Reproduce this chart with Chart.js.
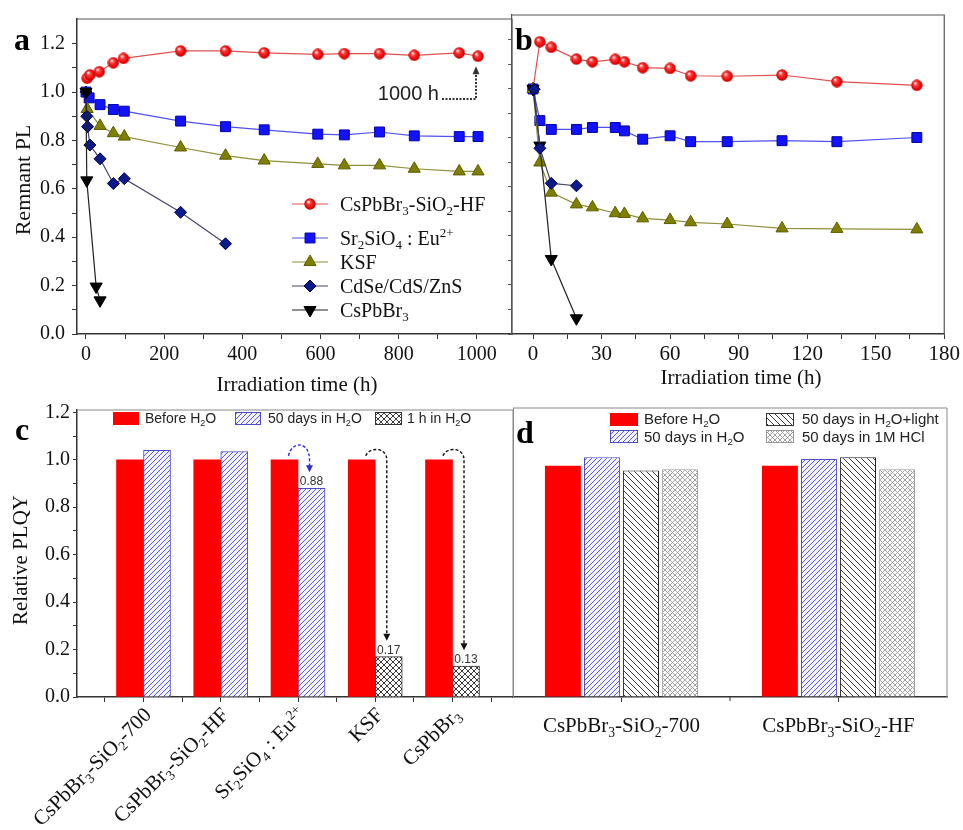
<!DOCTYPE html>
<html><head><meta charset="utf-8">
<script src="https://cdn.jsdelivr.net/npm/chart.js@4/dist/chart.umd.min.js"></script>
<style>
html,body{margin:0;padding:0;background:#fff;width:963px;height:830px;overflow:hidden}
canvas{position:absolute}
</style></head><body>
<canvas id="ca" width="520" height="400" style="left:0;top:0"></canvas>
<canvas id="cb" width="483" height="400" style="left:480px;top:0"></canvas>
<canvas id="cc" width="520" height="435" style="left:0;top:395px"></canvas>
<canvas id="cd" width="483" height="435" style="left:480px;top:395px"></canvas>
<script>
// ---------------- DATA ----------------
// Panel a : remnant PL vs irradiation time (h)
const aTimeHF  = [3, 10, 34, 70, 96, 242, 357, 456, 593, 661, 751, 840, 955, 1003];
const aPLHF    = [1.057, 1.071, 1.084, 1.121, 1.139, 1.170, 1.170, 1.162, 1.156, 1.159, 1.159, 1.152, 1.162, 1.148];
const aTimeSr  = [0, 8, 36, 70, 98, 242, 357, 456, 593, 661, 751, 840, 955, 1003];
const aPLSr    = [1.0, 0.976, 0.948, 0.928, 0.921, 0.880, 0.857, 0.844, 0.826, 0.823, 0.835, 0.819, 0.816, 0.816];
const aTimeKSF = [3, 36, 70, 98, 242, 357, 456, 593, 661, 751, 840, 955, 1003];
const aPLKSF   = [0.93, 0.86, 0.830, 0.816, 0.771, 0.737, 0.717, 0.703, 0.697, 0.697, 0.683, 0.672, 0.672];
const aTimeCd  = [0, 2, 4, 10, 36, 70, 98, 242, 357];
const aPLCd    = [1.0, 0.90, 0.857, 0.781, 0.724, 0.622, 0.642, 0.503, 0.373];
const aTimeCs  = [0, 2, 26, 36];
const aPLCs    = [1.0, 0.635, 0.196, 0.139];
// Panel b
const bTime    = [0, 3, 8, 19, 26, 36, 40, 48, 60, 69, 85, 109, 133, 168];
const bPLHF    = [1.0, 1.193, 1.170, 1.122, 1.111, 1.121, 1.111, 1.087, 1.084, 1.054, 1.052, 1.057, 1.030, 1.015];
const bPLSr    = [1.0, 0.871, 0.835, 0.835, 0.843, 0.843, 0.829, 0.795, 0.809, 0.785, 0.785, 0.789, 0.785, 0.802];
const bPLKSF   = [1.0, 0.700, 0.577, 0.529, 0.517, 0.493, 0.490, 0.472, 0.465, 0.456, 0.449, 0.431, 0.429, 0.427];
const bTimeCd  = [0.5, 3, 8, 19];
const bPLCd    = [0.999, 0.758, 0.615, 0.605];
const bTimeCs  = [0, 3, 8, 19];
const bPLCs    = [1.0, 0.769, 0.306, 0.064];
// Tick values
const aXTicks  = [0, 100, 200, 300, 400, 500, 600, 700, 800, 900, 1000];
const aXLabels = [0, 200, 400, 600, 800, 1000];
const bXTicks  = [0, 15, 30, 45, 60, 75, 90, 105, 120, 135, 150, 165, 180];
const bXLabels = [0, 30, 60, 90, 120, 150, 180];
const yTicks   = [0, 0.1, 0.2, 0.3, 0.4, 0.5, 0.6, 0.7, 0.8, 0.9, 1.0, 1.1, 1.2];
const yLabels  = [0, 0.2, 0.4, 0.6, 0.8, 1.0, 1.2];
// Panel c : relative PLQY
const cCatIndex = [0, 1, 2, 3, 4];
const cCats = [
  [['CsPbBr','n'],['3','b'],['-SiO','n'],['2','b'],['-700','n']],
  [['CsPbBr','n'],['3','b'],['-SiO','n'],['2','b'],['-HF','n']],
  [['Sr','n'],['2','b'],['SiO','n'],['4','b'],[' : Eu','n'],['2+','p']],
  [['KSF','n']],
  [['CsPbBr','n'],['3','b']]
];
const cBefore = [1.0, 1.0, 1.0, 1.0, 1.0];
const c50Days = [1.04, 1.035, 0.88, null, null];
const c1Hour  = [null, null, null, 0.17, 0.13];
const cXTicks = [-0.5, 0, 0.5, 1, 1.5, 2, 2.5, 3, 3.5, 4, 4.5];
// Panel d
const dCats = ['CsPbBr3-SiO2-700', 'CsPbBr3-SiO2-HF'];
const dCatsRich = [
  [['CsPbBr','n'],['3','b'],['-SiO','n'],['2','b'],['-700','n']],
  [['CsPbBr','n'],['3','b'],['-SiO','n'],['2','b'],['-HF','n']]
];
const dBefore = [0.965, 0.965];
const d50Days = [1.0, 0.993];
const dLight  = [0.945, 1.0];
const dHCl    = [0.95, 0.95];

// ---------------- HELPERS ----------------
const SERIF = '"Liberation Serif","Times New Roman",serif';
const SANS = '"Liberation Sans",Arial,sans-serif';

function richWidth(ctx, parts, size, family) {
  let w = 0;
  for (const [t, m] of parts) {
    ctx.font = (m === 'n' ? size : size * 0.65) + 'px ' + family;
    w += ctx.measureText(t).width;
  }
  return w;
}
function drawRich(ctx, parts, x, y, size, family, align, color) {
  const w = richWidth(ctx, parts, size, family);
  let cx = align === 'center' ? x - w / 2 : (align === 'right' ? x - w : x);
  const base = y + size * 0.33;
  ctx.fillStyle = color; ctx.textAlign = 'left'; ctx.textBaseline = 'alphabetic';
  for (const [t, m] of parts) {
    const s = m === 'n' ? size : size * 0.65;
    ctx.font = s + 'px ' + family;
    const dy = m === 'b' ? size * 0.22 : (m === 'p' ? -size * 0.38 : 0);
    ctx.fillText(t, cx, base + dy);
    cx += ctx.measureText(t).width;
  }
}
function makeSphere(d) {
  const c = document.createElement('canvas'); c.width = c.height = d;
  const g = c.getContext('2d'); const r = d / 2;
  const grad = g.createRadialGradient(r * 0.7, r * 0.62, r * 0.08, r, r, r);
  grad.addColorStop(0, '#ffe4e4'); grad.addColorStop(0.3, '#ff3a3a');
  grad.addColorStop(0.8, '#e00000'); grad.addColorStop(1, '#a80000');
  g.fillStyle = grad; g.beginPath(); g.arc(r, r, r - 0.3, 0, Math.PI * 2); g.fill();
  return c;
}
function makeTile(size, bg, color, lw, dirs) {
  const t = document.createElement('canvas'); t.width = t.height = size;
  const g = t.getContext('2d');
  g.fillStyle = bg; g.fillRect(0, 0, size, size);
  g.strokeStyle = color; g.lineWidth = lw;
  for (const d of dirs) {
    g.beginPath();
    for (const o of [-size, 0, size]) {
      if (d === '/') { g.moveTo(o, size); g.lineTo(o + size, 0); }
      else { g.moveTo(o, 0); g.lineTo(o + size, size); }
    }
    g.stroke();
  }
  return t;
}
function drawMarker(ctx, style, x, y, r, fill, edge, rot) {
  if (style instanceof HTMLCanvasElement) { ctx.drawImage(style, x - style.width / 2, y - style.height / 2); return; }
  ctx.save(); ctx.translate(x, y); ctx.rotate((rot || 0) * Math.PI / 180);
  ctx.beginPath();
  if (style === 'rect') { const s = r * Math.SQRT1_2; ctx.rect(-s, -s, 2 * s, 2 * s); }
  else if (style === 'rectRot') { ctx.moveTo(-r, 0); ctx.lineTo(0, -r); ctx.lineTo(r, 0); ctx.lineTo(0, r); ctx.closePath(); }
  else { for (let k = 0; k < 3; k++) { const a = k * 2 * Math.PI / 3; ctx.lineTo(Math.sin(a) * r, -Math.cos(a) * r); } ctx.closePath(); }
  ctx.fillStyle = fill; ctx.fill(); ctx.strokeStyle = edge; ctx.lineWidth = 1; ctx.stroke();
  ctx.restore();
}
const near = (arr, v) => arr.some(a => Math.abs(a - v) < 1e-6);

function linAxis(o) {
  return {
    type: 'linear', min: o.min, max: o.max, offset: false,
    afterBuildTicks: s => { s.ticks = o.ticks.map(v => ({ value: v })); },
    afterFit: s => { if (o.w != null) s.width = o.w; if (o.h != null) s.height = o.h; },
    ticks: { display: o.labels !== false, autoSkip: false, maxRotation: 0, minRotation: 0,
      padding: o.pad == null ? 3 : o.pad, color: '#111', font: { family: SERIF, size: o.size || 20 },
      callback: v => o.fmt ? o.fmt(v) : v },
    grid: { display: true, drawOnChartArea: false, drawTicks: o.tl !== 0, tickLength: o.tl == null ? 5 : o.tl,
      color: o.tc || '#333', offset: false },
    border: { display: true, color: o.bc || '#333', width: o.bw || 1.5 }
  };
}

const sphere = makeSphere(12);
const series = [
  { name: [['CsPbBr','n'],['3','b'],['-SiO','n'],['2','b'],['-HF','n']], style: sphere, r: 6, fill: '#ff2020', edge: '#b00000', line: '#e05050', rot: 0 },
  { name: [['Sr','n'],['2','b'],['SiO','n'],['4','b'],[' : Eu','n'],['2+','p']], style: 'rect', r: 7, fill: '#1212ff', edge: '#0000a8', line: '#5050f0', rot: 0 },
  { name: [['KSF','n']], style: 'triangle', r: 7, fill: '#808000', edge: '#5c5c00', line: '#8e8e38', rot: 0 },
  { name: [['CdSe/CdS/ZnS','n']], style: 'rectRot', r: 6, fill: '#0c1a8c', edge: '#000050', line: '#44446a', rot: 0 },
  { name: [['CsPbBr','n'],['3','b']], style: 'triangle', r: 7, fill: '#000000', edge: '#000000', line: '#222222', rot: 180 }
];
function lineDs(s, xs, ys, order) {
  return { data: xs.map((x, i) => ({ x, y: ys[i] })), order,
    borderColor: s.line, borderWidth: 1.2, backgroundColor: s.fill,
    pointStyle: s.style, pointRadius: s.r, pointRotation: s.rot,
    pointBackgroundColor: s.fill, pointBorderColor: s.edge, pointBorderWidth: 1,
    tension: 0, fill: false, clip: false };
}
const baseOpts = { responsive: false, animation: false, devicePixelRatio: 1, events: [],
  plugins: { legend: { display: false }, tooltip: { enabled: false } } };

// ---------------- PANEL A ----------------
const decoA = {
  id: 'decoA',
  afterDraw(chart) {
    const { ctx, chartArea: ca, scales: { x, y } } = chart;
    ctx.save();
    ctx.strokeStyle = '#555'; ctx.lineWidth = 1.2;
    ctx.beginPath(); ctx.moveTo(ca.left, ca.top); ctx.lineTo(ca.right, ca.top); ctx.lineTo(ca.right, ca.bottom); ctx.stroke();
    ctx.fillStyle = '#000'; ctx.font = 'bold 32px ' + SERIF; ctx.textAlign = 'left'; ctx.textBaseline = 'alphabetic';
    ctx.fillText('a', 14, 50);
    ctx.fillStyle = '#111'; ctx.font = '21px ' + SERIF; ctx.textAlign = 'center'; ctx.textBaseline = 'middle';
    ctx.fillText('Irradiation time (h)', 297, 385);
    ctx.save(); ctx.translate(24, 180); ctx.rotate(-Math.PI / 2); ctx.font = '22px ' + SERIF; ctx.fillText('Remnant PL', 0, 0); ctx.restore();
    // legend
    const rows = [204, 238, 262, 286, 310];
    series.forEach((s, i) => {
      const yy = rows[i];
      ctx.strokeStyle = s.line; ctx.lineWidth = 1.2;
      ctx.beginPath(); ctx.moveTo(292, yy); ctx.lineTo(328, yy); ctx.stroke();
      drawMarker(ctx, s.style, 310, yy, s.r, s.fill, s.edge, s.rot);
      drawRich(ctx, s.name, 340, yy, 20, SERIF, 'left', '#111');
    });
    // 1000 h annotation
    const last = aTimeHF.length - 1;
    const lx = x.getPixelForValue(aTimeHF[last]) - 2;
    const ly = y.getPixelForValue(aPLHF[last]);
    const hy = y.getPixelForValue(1.0) + 7;
    ctx.strokeStyle = '#333'; ctx.lineWidth = 2; ctx.setLineDash([2, 1.5]);
    ctx.beginPath(); ctx.moveTo(lx - 34, hy); ctx.lineTo(lx, hy); ctx.lineTo(lx, ly + 17); ctx.stroke();
    ctx.setLineDash([]); ctx.fillStyle = '#333';
    ctx.beginPath(); ctx.moveTo(lx, ly + 10); ctx.lineTo(lx - 3.5, ly + 18); ctx.lineTo(lx + 3.5, ly + 18); ctx.closePath(); ctx.fill();
    ctx.fillStyle = '#222'; ctx.font = '20px ' + SANS; ctx.textAlign = 'right'; ctx.textBaseline = 'alphabetic';
    ctx.fillText('1000 h', lx - 37, hy + 1);
    ctx.restore();
  }
};
new Chart(document.getElementById('ca'), {
  type: 'line',
  data: { datasets: [
    lineDs(series[0], aTimeHF, aPLHF, 5), lineDs(series[1], aTimeSr, aPLSr, 4),
    lineDs(series[2], aTimeKSF, aPLKSF, 3), lineDs(series[3], aTimeCd, aPLCd, 2),
    lineDs(series[4], aTimeCs, aPLCs, 1) ] },
  options: Object.assign({}, baseOpts, {
    layout: { padding: { top: 15, right: 8, left: 0, bottom: 0 } },
    scales: {
      x: linAxis({ min: -23, max: 1090, ticks: aXTicks, h: 66, pad: 4, fmt: v => near(aXLabels, v) ? String(v) : '' }),
      y: linAxis({ min: 0, max: 1.302, ticks: yTicks, w: 77, pad: 7, fmt: v => near(yLabels, v) ? v.toFixed(1) : '' })
    } }),
  plugins: [decoA]
});

// ---------------- PANEL B ----------------
const decoB = {
  id: 'decoB',
  afterDraw(chart) {
    const { ctx, chartArea: ca } = chart;
    ctx.save();
    ctx.strokeStyle = '#555'; ctx.lineWidth = 1.2;
    ctx.beginPath(); ctx.moveTo(ca.left, ca.top); ctx.lineTo(ca.right, ca.top); ctx.lineTo(ca.right, ca.bottom); ctx.stroke();
    ctx.fillStyle = '#000'; ctx.font = 'bold 32px ' + SERIF; ctx.textAlign = 'left'; ctx.textBaseline = 'alphabetic';
    ctx.fillText('b', 35, 50);
    ctx.fillStyle = '#111'; ctx.font = '21px ' + SERIF; ctx.textAlign = 'center'; ctx.textBaseline = 'middle';
    ctx.fillText('Irradiation time (h)', 261, 378);
    ctx.restore();
  }
};
new Chart(document.getElementById('cb'), {
  type: 'line',
  data: { datasets: [
    lineDs(series[0], bTime, bPLHF, 5), lineDs(series[1], bTime, bPLSr, 4),
    lineDs(series[2], bTime, bPLKSF, 3), lineDs(series[3], bTimeCd, bPLCd, 1),
    lineDs(series[4], bTimeCs, bPLCs, 2) ] },
  options: Object.assign({}, baseOpts, {
    layout: { padding: { top: 15, right: 17, left: 0, bottom: 0 } },
    scales: {
      x: linAxis({ min: -9.2, max: 180, ticks: bXTicks, h: 66, pad: 3, size: 21, fmt: v => near(bXLabels, v) ? String(v) : '' }),
      y: linAxis({ min: 0, max: 1.302, ticks: yTicks, w: 32, labels: false, tl: 4, bc: '#555', bw: 1.2, tc: '#555' })
    } }),
  plugins: [decoB]
});

// ---------------- PANEL C ----------------
const cctx = document.getElementById('cc').getContext('2d');
const dctx = document.getElementById('cd').getContext('2d');
const blueHatchC = cctx.createPattern(makeTile(5, '#f3f3fc', '#5b5bd6', 1, ['/']), 'repeat');
const crossC = cctx.createPattern(makeTile(6, '#ffffff', '#222222', 0.9, ['/', '\\']), 'repeat');
const blueHatchD = dctx.createPattern(makeTile(5, '#f3f3fc', '#5b5bd6', 1, ['/']), 'repeat');
const diagD = dctx.createPattern(makeTile(6, '#ffffff', '#222222', 0.9, ['\\']), 'repeat');
const grayD = dctx.createPattern(makeTile(5, '#ffffff', '#9a9a9a', 0.9, ['/', '\\']), 'repeat');

function legendBox(ctx, x, y, w, h, fill, edge) {
  ctx.fillStyle = fill; ctx.fillRect(x, y, w, h);
  if (edge) { ctx.strokeStyle = edge; ctx.lineWidth = 1; ctx.strokeRect(x + 0.5, y + 0.5, w - 1, h - 1); }
}
const H2O = (pre, post) => [[pre + 'H','n'],['2','b'],['O' + (post || ''),'n']];

const decoC = {
  id: 'decoC',
  afterDatasetsDraw(chart) {
    const ctx = chart.ctx;
    const m0 = chart.getDatasetMeta(0), m1 = chart.getDatasetMeta(1), m2 = chart.getDatasetMeta(2);
    ctx.save();
    cCatIndex.forEach(i => {
      const v = c50Days[i] != null ? c50Days[i] : c1Hour[i];
      if (v == null || v > 0.95) return;
      const red = m0.data[i];
      const sec = c50Days[i] != null ? m1.data[i] : m2.data[i];
      const col = c50Days[i] != null ? '#2e2ed0' : '#111';
      const hh = c50Days[i] != null ? 15 : 9;
      const sx = red.x + 4, sy = red.y - 4, ex = sec.x - 2, tipY = sec.y - 16;
      ctx.strokeStyle = col; ctx.lineWidth = 1.4; ctx.setLineDash([3, 2]);
      ctx.beginPath(); ctx.moveTo(sx, sy);
      ctx.bezierCurveTo(sx + 3, sy - hh, ex, sy - hh, ex, sy + 4);
      ctx.lineTo(ex, tipY - 6); ctx.stroke();
      ctx.setLineDash([]); ctx.fillStyle = col;
      ctx.beginPath(); ctx.moveTo(ex, tipY); ctx.lineTo(ex - 3.5, tipY - 7); ctx.lineTo(ex + 3.5, tipY - 7); ctx.closePath(); ctx.fill();
      ctx.fillStyle = '#333'; ctx.font = '12px ' + SANS; ctx.textAlign = 'center'; ctx.textBaseline = 'alphabetic';
      ctx.fillText(v.toFixed(2), sec.x, sec.y - 3);
    });
    ctx.restore();
  },
  afterDraw(chart) {
    const { ctx, chartArea: ca, scales: { x } } = chart;
    ctx.save();
    ctx.strokeStyle = '#888'; ctx.lineWidth = 1;
    ctx.beginPath(); ctx.moveTo(ca.left, ca.top); ctx.lineTo(ca.right, ca.top); ctx.lineTo(ca.right, ca.bottom); ctx.stroke();
    ctx.fillStyle = '#000'; ctx.font = 'bold 32px ' + SERIF; ctx.textAlign = 'left'; ctx.textBaseline = 'alphabetic';
    ctx.fillText('c', 15, 45);
    ctx.save(); ctx.translate(21, 165); ctx.rotate(-Math.PI / 2);
    ctx.fillStyle = '#111'; ctx.font = '21px ' + SERIF; ctx.textAlign = 'center'; ctx.textBaseline = 'middle';
    ctx.fillText('Relative PLQY', 0, 0); ctx.restore();
    // legend
    legendBox(ctx, 113, 17, 26, 13, '#ff0000');
    drawRich(ctx, H2O('Before '), 145, 23, 14, SANS, 'left', '#222');
    legendBox(ctx, 235, 17, 26, 13, blueHatchC, '#4b4bcc');
    drawRich(ctx, H2O('50 days in '), 268, 23, 14, SANS, 'left', '#222');
    legendBox(ctx, 375, 17, 27, 13, crossC, '#333');
    drawRich(ctx, H2O('1 h in '), 407, 23, 14, SANS, 'left', '#222');
    // rotated category labels
    cCatIndex.forEach(i => {
      const cx = x.getPixelForValue(i);
      ctx.save(); ctx.translate(cx + 4, 316); ctx.rotate(-Math.PI / 4);
      drawRich(ctx, cCats[i], 0, 0, 21, SERIF, 'right', '#111');
      ctx.restore();
    });
    ctx.restore();
  }
};
const barDs = (vals, bg, edge, bw) => ({ data: cCatIndex.map(i => ({ x: i, y: vals[i] })),
  backgroundColor: bg, borderColor: edge, borderWidth: bw, barThickness: 27, skipNull: true, grouped: true });
new Chart(cctx, {
  type: 'bar',
  data: { datasets: [
    barDs(cBefore, '#ff0000', '#ff0000', 0),
    barDs(c50Days, blueHatchC, '#4b4bcc', 1),
    barDs(c1Hour, crossC, '#333333', 1) ] },
  options: Object.assign({}, baseOpts, {
    layout: { padding: { top: 12, right: 7, left: 0, bottom: 0 } },
    scales: {
      x: linAxis({ min: -0.861, max: 4.783, ticks: cXTicks, h: 133, labels: false, tl: 5 }),
      y: linAxis({ min: 0, max: 1.21, ticks: yTicks, w: 77, pad: 3, tl: 4, fmt: v => near(yLabels, v) ? v.toFixed(1) : '' })
    } }),
  plugins: [decoC]
});

// ---------------- PANEL D ----------------
const decoD = {
  id: 'decoD',
  afterDraw(chart) {
    const { ctx, chartArea: ca, scales: { x } } = chart;
    ctx.save();
    ctx.strokeStyle = '#888'; ctx.lineWidth = 1;
    ctx.beginPath(); ctx.moveTo(ca.left, ca.top); ctx.lineTo(ca.right, ca.top); ctx.lineTo(ca.right, ca.bottom); ctx.stroke();
    const mid = x.getPixelForValue(0.5);
    ctx.strokeStyle = '#333'; ctx.lineWidth = 1;
    ctx.beginPath(); ctx.moveTo(mid, ca.bottom); ctx.lineTo(mid, ca.bottom + 4); ctx.stroke();
    ctx.fillStyle = '#000'; ctx.font = 'bold 32px ' + SERIF; ctx.textAlign = 'left'; ctx.textBaseline = 'alphabetic';
    ctx.fillText('d', 36, 48);
    legendBox(ctx, 130, 18, 28, 13, '#ff0000');
    drawRich(ctx, H2O('Before '), 164, 24, 15, SANS, 'left', '#222');
    legendBox(ctx, 130, 35, 28, 13, blueHatchD, '#4b4bcc');
    drawRich(ctx, H2O('50 days in '), 164, 42, 15, SANS, 'left', '#222');
    legendBox(ctx, 286, 18, 28, 13, diagD, '#333');
    drawRich(ctx, H2O('50 days in ', '+light'), 322, 24, 15, SANS, 'left', '#222');
    legendBox(ctx, 286, 35, 28, 13, grayD, '#999');
    drawRich(ctx, [['50 days in 1M HCl','n']], 322, 42, 15, SANS, 'left', '#222');
    dCatsRich.forEach((parts, i) => drawRich(ctx, parts, x.getPixelForValue(i), 330, 21, SERIF, 'center', '#111'));
    ctx.restore();
  }
};
const dBar = (vals, bg, edge, bw) => ({ data: vals, backgroundColor: bg, borderColor: edge, borderWidth: bw,
  categoryPercentage: 0.72, barPercentage: 0.92 });
new Chart(dctx, {
  type: 'bar',
  data: { labels: dCats, datasets: [
    dBar(dBefore, '#ff0000', '#ff0000', 0),
    dBar(d50Days, blueHatchD, '#4b4bcc', 1),
    dBar(dLight, diagD, '#222222', 1),
    dBar(dHCl, grayD, '#999999', 1) ] },
  options: Object.assign({}, baseOpts, {
    layout: { padding: { top: 13, right: 16, left: 0, bottom: 0 } },
    scales: {
      x: { type: 'category', offset: true, afterFit: s => { s.height = 133; },
        ticks: { display: false }, grid: { drawOnChartArea: false, offset: false, tickLength: 5, color: '#333' },
        border: { color: '#333', width: 1.5 } },
      y: linAxis({ min: 0, max: 1.206, ticks: yTicks, w: 33, labels: false, tl: 0, bc: '#888', bw: 1 })
    } }),
  plugins: [decoD]
});
</script>
</body></html>
